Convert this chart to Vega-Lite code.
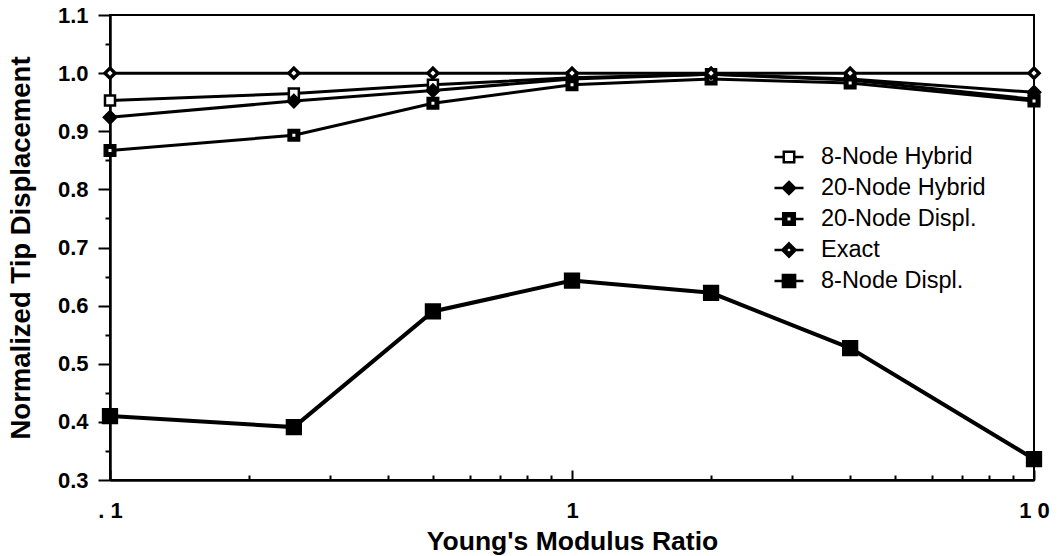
{
  "$schema": "https://vega.github.io/schema/vega-lite/v6.json",
  "width": 924,
  "height": 465,
  "autosize": {"type": "none"},
  "padding": {"left": 110, "top": 15, "right": 25, "bottom": 76},
  "background": "white",
  "config": {
    "view": {"stroke": "black", "strokeWidth": 2},
    "axis": {
      "grid": false,
      "domainColor": "black",
      "domainWidth": 2.5,
      "tickColor": "black",
      "tickWidth": 2,
      "labelFont": "Liberation Sans",
      "labelFontWeight": "bold",
      "labelFontSize": 22,
      "labelColor": "black",
      "titleFont": "Liberation Sans",
      "titleFontWeight": "bold",
      "titleColor": "black"
    }
  },
  "data": {
    "values": [
      {"ratio": 0.1, "disp": 0.953, "series": "8-Node Hybrid"},
      {"ratio": 0.25, "disp": 0.965, "series": "8-Node Hybrid"},
      {"ratio": 0.5, "disp": 0.980, "series": "8-Node Hybrid"},
      {"ratio": 1, "disp": 0.992, "series": "8-Node Hybrid"},
      {"ratio": 2, "disp": 0.998, "series": "8-Node Hybrid"},
      {"ratio": 4, "disp": 0.988, "series": "8-Node Hybrid"},
      {"ratio": 10, "disp": 0.955, "series": "8-Node Hybrid"},
      {"ratio": 0.1, "disp": 0.924, "series": "20-Node Hybrid"},
      {"ratio": 0.25, "disp": 0.952, "series": "20-Node Hybrid"},
      {"ratio": 0.5, "disp": 0.970, "series": "20-Node Hybrid"},
      {"ratio": 1, "disp": 0.990, "series": "20-Node Hybrid"},
      {"ratio": 2, "disp": 0.998, "series": "20-Node Hybrid"},
      {"ratio": 4, "disp": 0.990, "series": "20-Node Hybrid"},
      {"ratio": 10, "disp": 0.967, "series": "20-Node Hybrid"},
      {"ratio": 0.1, "disp": 0.867, "series": "20-Node Displ."},
      {"ratio": 0.25, "disp": 0.893, "series": "20-Node Displ."},
      {"ratio": 0.5, "disp": 0.948, "series": "20-Node Displ."},
      {"ratio": 1, "disp": 0.980, "series": "20-Node Displ."},
      {"ratio": 2, "disp": 0.990, "series": "20-Node Displ."},
      {"ratio": 4, "disp": 0.983, "series": "20-Node Displ."},
      {"ratio": 10, "disp": 0.952, "series": "20-Node Displ."},
      {"ratio": 0.1, "disp": 1.0, "series": "Exact"},
      {"ratio": 0.25, "disp": 1.0, "series": "Exact"},
      {"ratio": 0.5, "disp": 1.0, "series": "Exact"},
      {"ratio": 1, "disp": 1.0, "series": "Exact"},
      {"ratio": 2, "disp": 1.0, "series": "Exact"},
      {"ratio": 4, "disp": 1.0, "series": "Exact"},
      {"ratio": 10, "disp": 1.0, "series": "Exact"},
      {"ratio": 0.1, "disp": 0.41, "series": "8-Node Displ."},
      {"ratio": 0.25, "disp": 0.391, "series": "8-Node Displ."},
      {"ratio": 0.5, "disp": 0.59, "series": "8-Node Displ."},
      {"ratio": 1, "disp": 0.643, "series": "8-Node Displ."},
      {"ratio": 2, "disp": 0.622, "series": "8-Node Displ."},
      {"ratio": 4, "disp": 0.527, "series": "8-Node Displ."},
      {"ratio": 10, "disp": 0.336, "series": "8-Node Displ."}
    ]
  },
  "encoding": {
    "x": {
      "field": "ratio",
      "type": "quantitative",
      "scale": {"type": "log", "domain": [0.1, 10], "nice": false},
      "axis": {
        "title": "Young's Modulus Ratio",
        "titleFontSize": 26.5,
        "values": [0.1, 0.2, 0.3, 0.4, 0.5, 0.6, 0.7, 0.8, 0.9, 1, 2, 3, 4, 5, 6, 7, 8, 9, 10],
        "labelExpr": "datum.value === 0.1 ? '. 1' : datum.value === 1 ? '1' : datum.value === 10 ? '1 0' : ''",
        "tickSize": {"condition": {"test": "datum.value === 0.1 || datum.value === 1 || datum.value === 10", "value": -10}, "value": -5},
        "labelPadding": 30,
        "labelFlush": false,
        "labelOverlap": false,
        "titlePadding": 2
      }
    },
    "y": {
      "field": "disp",
      "type": "quantitative",
      "scale": {"domain": [0.3, 1.1], "nice": false, "zero": false},
      "axis": {
        "title": "Normalized Tip Displacement",
        "titleFontSize": 27.5,
        "values": [0.3, 0.35, 0.4, 0.45, 0.5, 0.55, 0.6, 0.65, 0.7, 0.75, 0.8, 0.85, 0.9, 0.95, 1.0, 1.05, 1.1],
        "labelExpr": "abs(datum.value * 10 - round(datum.value * 10)) < 0.01 ? format(datum.value, '.1f') : ''",
        "tickSize": {"condition": {"test": "abs(datum.value * 10 - round(datum.value * 10)) < 0.01", "value": 12}, "value": 5},
        "labelPadding": 10,
        "labelOverlap": false,
        "labelFlush": false,
        "titlePadding": 22
      }
    }
  },
  "layer": [
    {
      "mark": {"type": "line", "color": "black"},
      "encoding": {
        "detail": {"field": "series", "type": "nominal"},
        "strokeWidth": {"condition": {"test": "datum.series === '8-Node Displ.'", "value": 4}, "value": 3}
      }
    },
    {
      "mark": {"type": "point", "filled": true, "stroke": "black", "opacity": 1},
      "encoding": {
        "shape": {
          "condition": [{"test": "datum.series === '20-Node Hybrid' || datum.series === 'Exact'", "value": "diamond"}],
          "value": "square"
        },
        "fill": {
          "condition": [{"test": "datum.series === '20-Node Hybrid' || datum.series === '8-Node Displ.'", "value": "black"}],
          "value": "white"
        },
        "strokeWidth": {
          "condition": [
            {"test": "datum.series === '20-Node Displ.'", "value": 5},
            {"test": "datum.series === 'Exact'", "value": 3.5}
          ],
          "value": 2.5
        },
        "size": {
          "condition": [
            {"test": "datum.series === '8-Node Displ.'", "value": 190},
            {"test": "datum.series === '20-Node Hybrid'", "value": 150},
            {"test": "datum.series === '20-Node Displ.'", "value": 64},
            {"test": "datum.series === 'Exact'", "value": 100}
          ],
          "value": 100
        }
      }
    },
    {
      "transform": [{"filter": "false"}],
      "mark": {"type": "point", "filled": true, "opacity": 1, "strokeWidth": 2.5},
      "encoding": {
        "shape": {
          "field": "series",
          "type": "nominal",
          "scale": {
            "domain": ["8-Node Hybrid", "20-Node Hybrid", "20-Node Displ.", "Exact", "8-Node Displ."],
            "range": [
              "M-1,0H-0.36M0.36,0H1M-0.36,-0.36H0.36V0.36H-0.36Z",
              "M-1,0H-0.42M0.42,0H1M0,-0.42L0.42,0L0,0.42L-0.42,0Z",
              "M-1,0H-0.4M0.4,0H1M-0.4,-0.4H0.4V0.4H-0.4ZM-0.19,-0.19V0.19H0.19V-0.19Z",
              "M-1,0H-0.46M0.46,0H1M0,-0.46L0.46,0L0,0.46L-0.46,0ZM0,-0.24L-0.24,0L0,0.24L0.24,0Z",
              "M-1,0H-0.42M0.42,0H1M-0.42,-0.42H0.42V0.42H-0.42Z"
            ]
          },
          "legend": {
            "title": null,
            "orient": "none",
            "legendX": 663,
            "legendY": 126,
            "symbolSize": 841,
            "symbolOpacity": 1,
            "symbolStrokeWidth": 2.5,
            "labelFont": "Liberation Sans",
            "labelFontSize": 23.5,
            "labelFontWeight": "normal",
            "labelColor": "black",
            "labelLimit": 400,
            "labelOffset": 16,
            "rowPadding": 3
          }
        },
        "fill": {
          "field": "series",
          "type": "nominal",
          "scale": {
            "domain": ["8-Node Hybrid", "20-Node Hybrid", "20-Node Displ.", "Exact", "8-Node Displ."],
            "range": ["white", "black", "black", "black", "black"]
          }
        },
        "stroke": {
          "field": "series",
          "type": "nominal",
          "scale": {
            "domain": ["8-Node Hybrid", "20-Node Hybrid", "20-Node Displ.", "Exact", "8-Node Displ."],
            "range": ["black", "black", "black", "black", "black"]
          }
        }
      }
    }
  ]
}
